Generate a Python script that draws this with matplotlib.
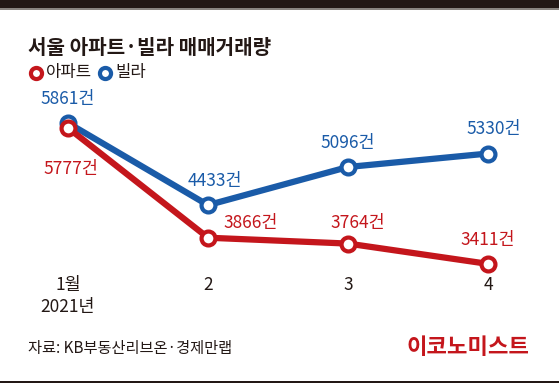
import matplotlib
matplotlib.use("Agg")
import matplotlib.pyplot as plt
from matplotlib.patches import Rectangle

plt.rcParams['font.family'] = ['Noto Sans CJK KR', 'DejaVu Sans']

months = [1, 2, 3, 4]
month_labels = ["1월\n2021년", "2", "3", "4"]
apt = [5777, 3866, 3764, 3411]
villa = [5861, 4433, 5096, 5330]
apt_name = "아파트"
villa_name = "빌라"
title = "서울 아파트·빌라 매매거래량"
source = "자료: KB부동산리브온·경제만랩"
logo = "이코노미스트"

RED = "#c4161c"
BLUE = "#1a5ba8"
DARK = "#231815"

W, H = 559, 383
fig = plt.figure(figsize=(W / 100, H / 100), dpi=100)
fig.patch.set_facecolor("white")

# axes: px 30..530 horizontally, px 100..290 vertically
ax = fig.add_axes([30 / W, 1 - 290 / H, 500 / W, 190 / H])
ax.set_xlim(1 - 38 / 140, 4 + 42 / 140)
ppu = 0.0575
ax.set_ylim(5861 - 167 / ppu, 5861 + 23 / ppu)
ax.axis("off")

ax.plot(months, apt, color=RED, lw=4.5, marker="o", ms=10, mfc="white",
        mec=RED, mew=3, zorder=3, solid_capstyle="round")
ax.plot(months, villa, color=BLUE, lw=4.5, marker="o", ms=10, mfc="white",
        mec=BLUE, mew=3, zorder=2, solid_capstyle="round")

fs = 12.5
# value labels (offsets in points)
villa_off = [(0, 11, "center", "bottom"), (5, 11, "center", "bottom"),
             (0, 11, "center", "bottom"), (4, 11, "center", "bottom")]
apt_off = [(2, -23, "center", "top"), (31, 4, "center", "bottom"),
           (7, 8, "center", "bottom"), (0, 11, "center", "bottom")]
for x, v, (dx, dy, ha, va) in zip(months, villa, villa_off):
    ax.annotate(f"{v}건", (x, v), xytext=(dx, dy), textcoords="offset points",
                ha=ha, va=va, color=BLUE, fontsize=fs)
for x, v, (dx, dy, ha, va) in zip(months, apt, apt_off):
    ax.annotate(f"{v}건", (x, v), xytext=(dx, dy), textcoords="offset points",
                ha=ha, va=va, color=RED, fontsize=fs)

# x labels
for x, lab in zip(months, month_labels):
    ax.annotate(lab, (x, ax.get_ylim()[0]), xytext=(0, 10), textcoords="offset points",
                ha="center", va="top", fontsize=12.5, color="#231815", linespacing=1.25)

# top dark band and bottom line
fig.add_artist(Rectangle((0, 1 - 8 / H), 1, 8 / H, transform=fig.transFigure,
                         facecolor=DARK, edgecolor="none"))
fig.add_artist(Rectangle((0, 1 - 10 / H), 1, 2 / H, transform=fig.transFigure,
                         facecolor="#8a8580", edgecolor="none"))
fig.add_artist(Rectangle((0, 0), 1, 2 / H, transform=fig.transFigure,
                         facecolor=DARK, edgecolor="none"))

# title
fig.text(28 / W, 1 - 47 / H, title, fontsize=14.5, fontweight="black",
         color="#231815", va="center", ha="left")

# legend
fig.lines.append(plt.Line2D([36 / W], [1 - 73 / H], transform=fig.transFigure,
                            marker="o", ms=8, mfc="white", mec=RED, mew=3))
fig.text(46 / W, 1 - 73 / H, apt_name, fontsize=12, color="#231815", va="center", ha="left")
fig.lines.append(plt.Line2D([105 / W], [1 - 73 / H], transform=fig.transFigure,
                            marker="o", ms=8, mfc="white", mec=BLUE, mew=3))
fig.text(115 / W, 1 - 73 / H, villa_name, fontsize=12, color="#231815", va="center", ha="left")

# source and logo
fig.text(28 / W, 1 - 349 / H, source, fontsize=11, color="#231815", va="center", ha="left")
fig.text(530 / W, 1 - 348 / H, logo, fontsize=16, fontweight="black", color=RED,
         va="center", ha="right")

fig.savefig("out.png", dpi=100)
